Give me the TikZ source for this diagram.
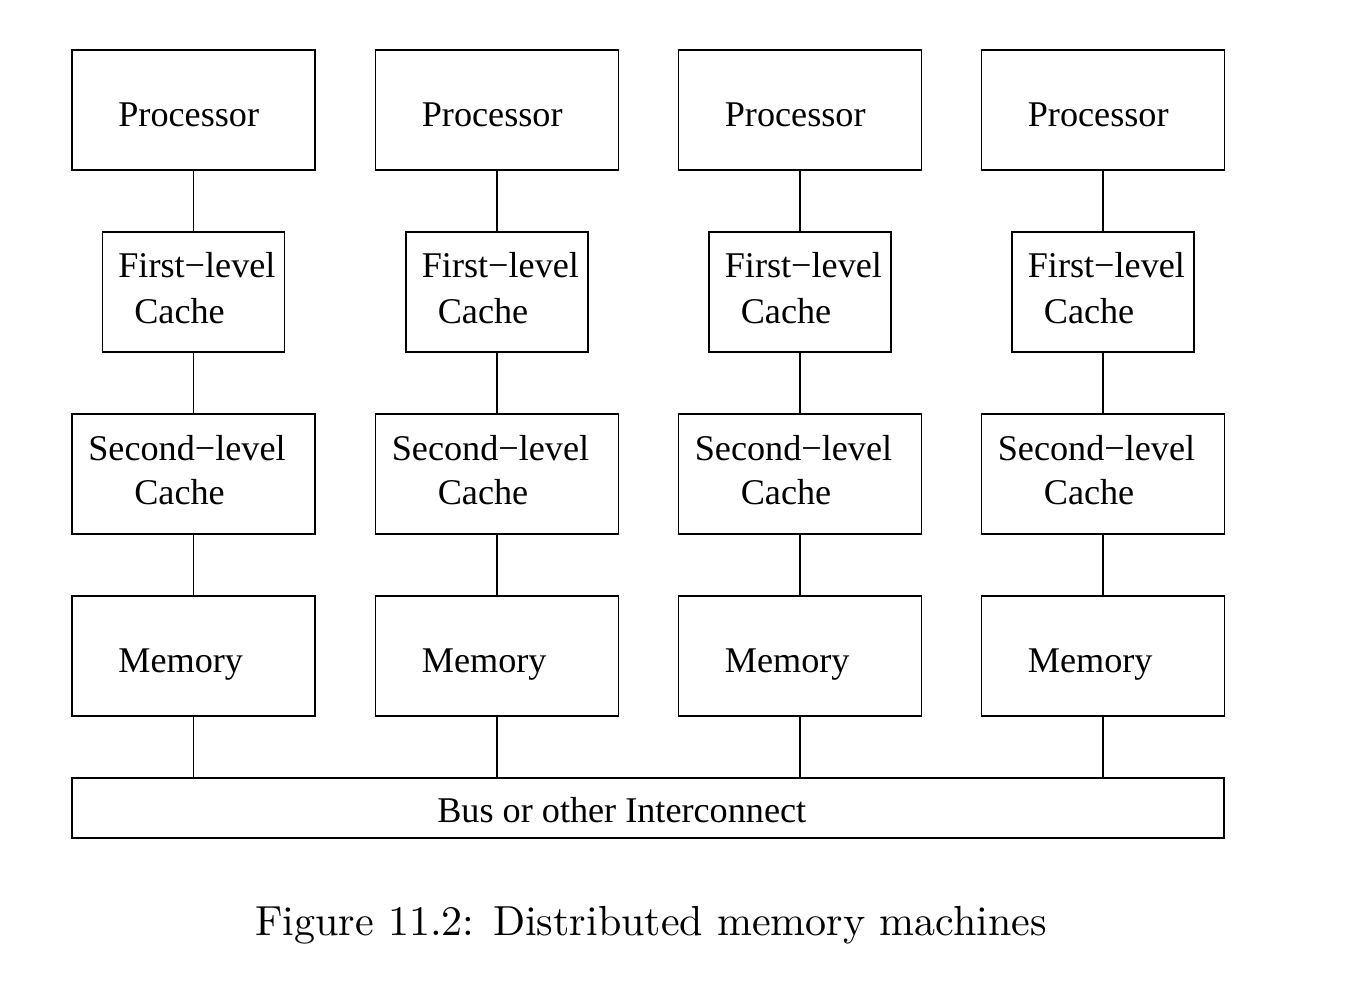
\documentclass[tikz,border=0pt]{standalone}
\usepackage{fontspec}
\newfontfamily\boxfont{Liberation Serif}
\begin{document}
\begin{tikzpicture}[
        x=0.02cm, y=-0.02cm,
        unit/.style={rectangle, draw, line width=0.8pt, minimum width=243*0.02cm, minimum height=120*0.02cm, inner sep=0pt},
        cache/.style={unit, minimum width=182*0.02cm},
        txt/.style={anchor=base west, inner sep=0pt, font=\boxfont\fontsize{20.6}{24}\selectfont},
        link/.style={line width=0.8pt}
    ]
        \useasboundingbox (0,0) rectangle (1346,994);

        % Bus
        \node[unit, minimum width=1152*0.02cm, minimum height=60*0.02cm] (bus) at (648,808) {};
        \node[txt] (bustext) at (437,822) {Bus or other Interconnect};

        % One column per processor
        \foreach \cx [count=\i] in {193.5,497,800,1103} {
            \node[unit] (p\i) at (\cx,110) {};
            \node[cache] (f\i) at (\cx,292) {};
            \node[unit] (s\i) at (\cx,474) {};
            \node[unit] (m\i) at (\cx,656) {};

            % Labels
            \node[txt] (pt\i) at (\cx-75.5,126) {Processor};
            \node[txt] (ft\i) at (\cx-75.5,277) {First−level};
            \node[txt] (fc\i) at (\cx-59.5,323) {Cache};
            \node[txt] (st\i) at (\cx-105.5,460) {Second−level};
            \node[txt] (sc\i) at (\cx-59.5,504) {Cache};
            \node[txt] (mt\i) at (\cx-75.5,672) {Memory};

            % Links
            \draw[link] (p\i) -- (f\i);
            \draw[link] (f\i) -- (s\i);
            \draw[link] (s\i) -- (m\i);
            \draw[link] (m\i) -- (m\i.south |- bus.north);
        }

        % Caption
        \node[anchor=base west, inner sep=0pt, font=\fontsize{10}{12}\selectfont] (caption) at (255,935) {\scalebox{2.393}{Figure 11.2: Distributed memory machines}};
    \end{tikzpicture}
\end{document}
